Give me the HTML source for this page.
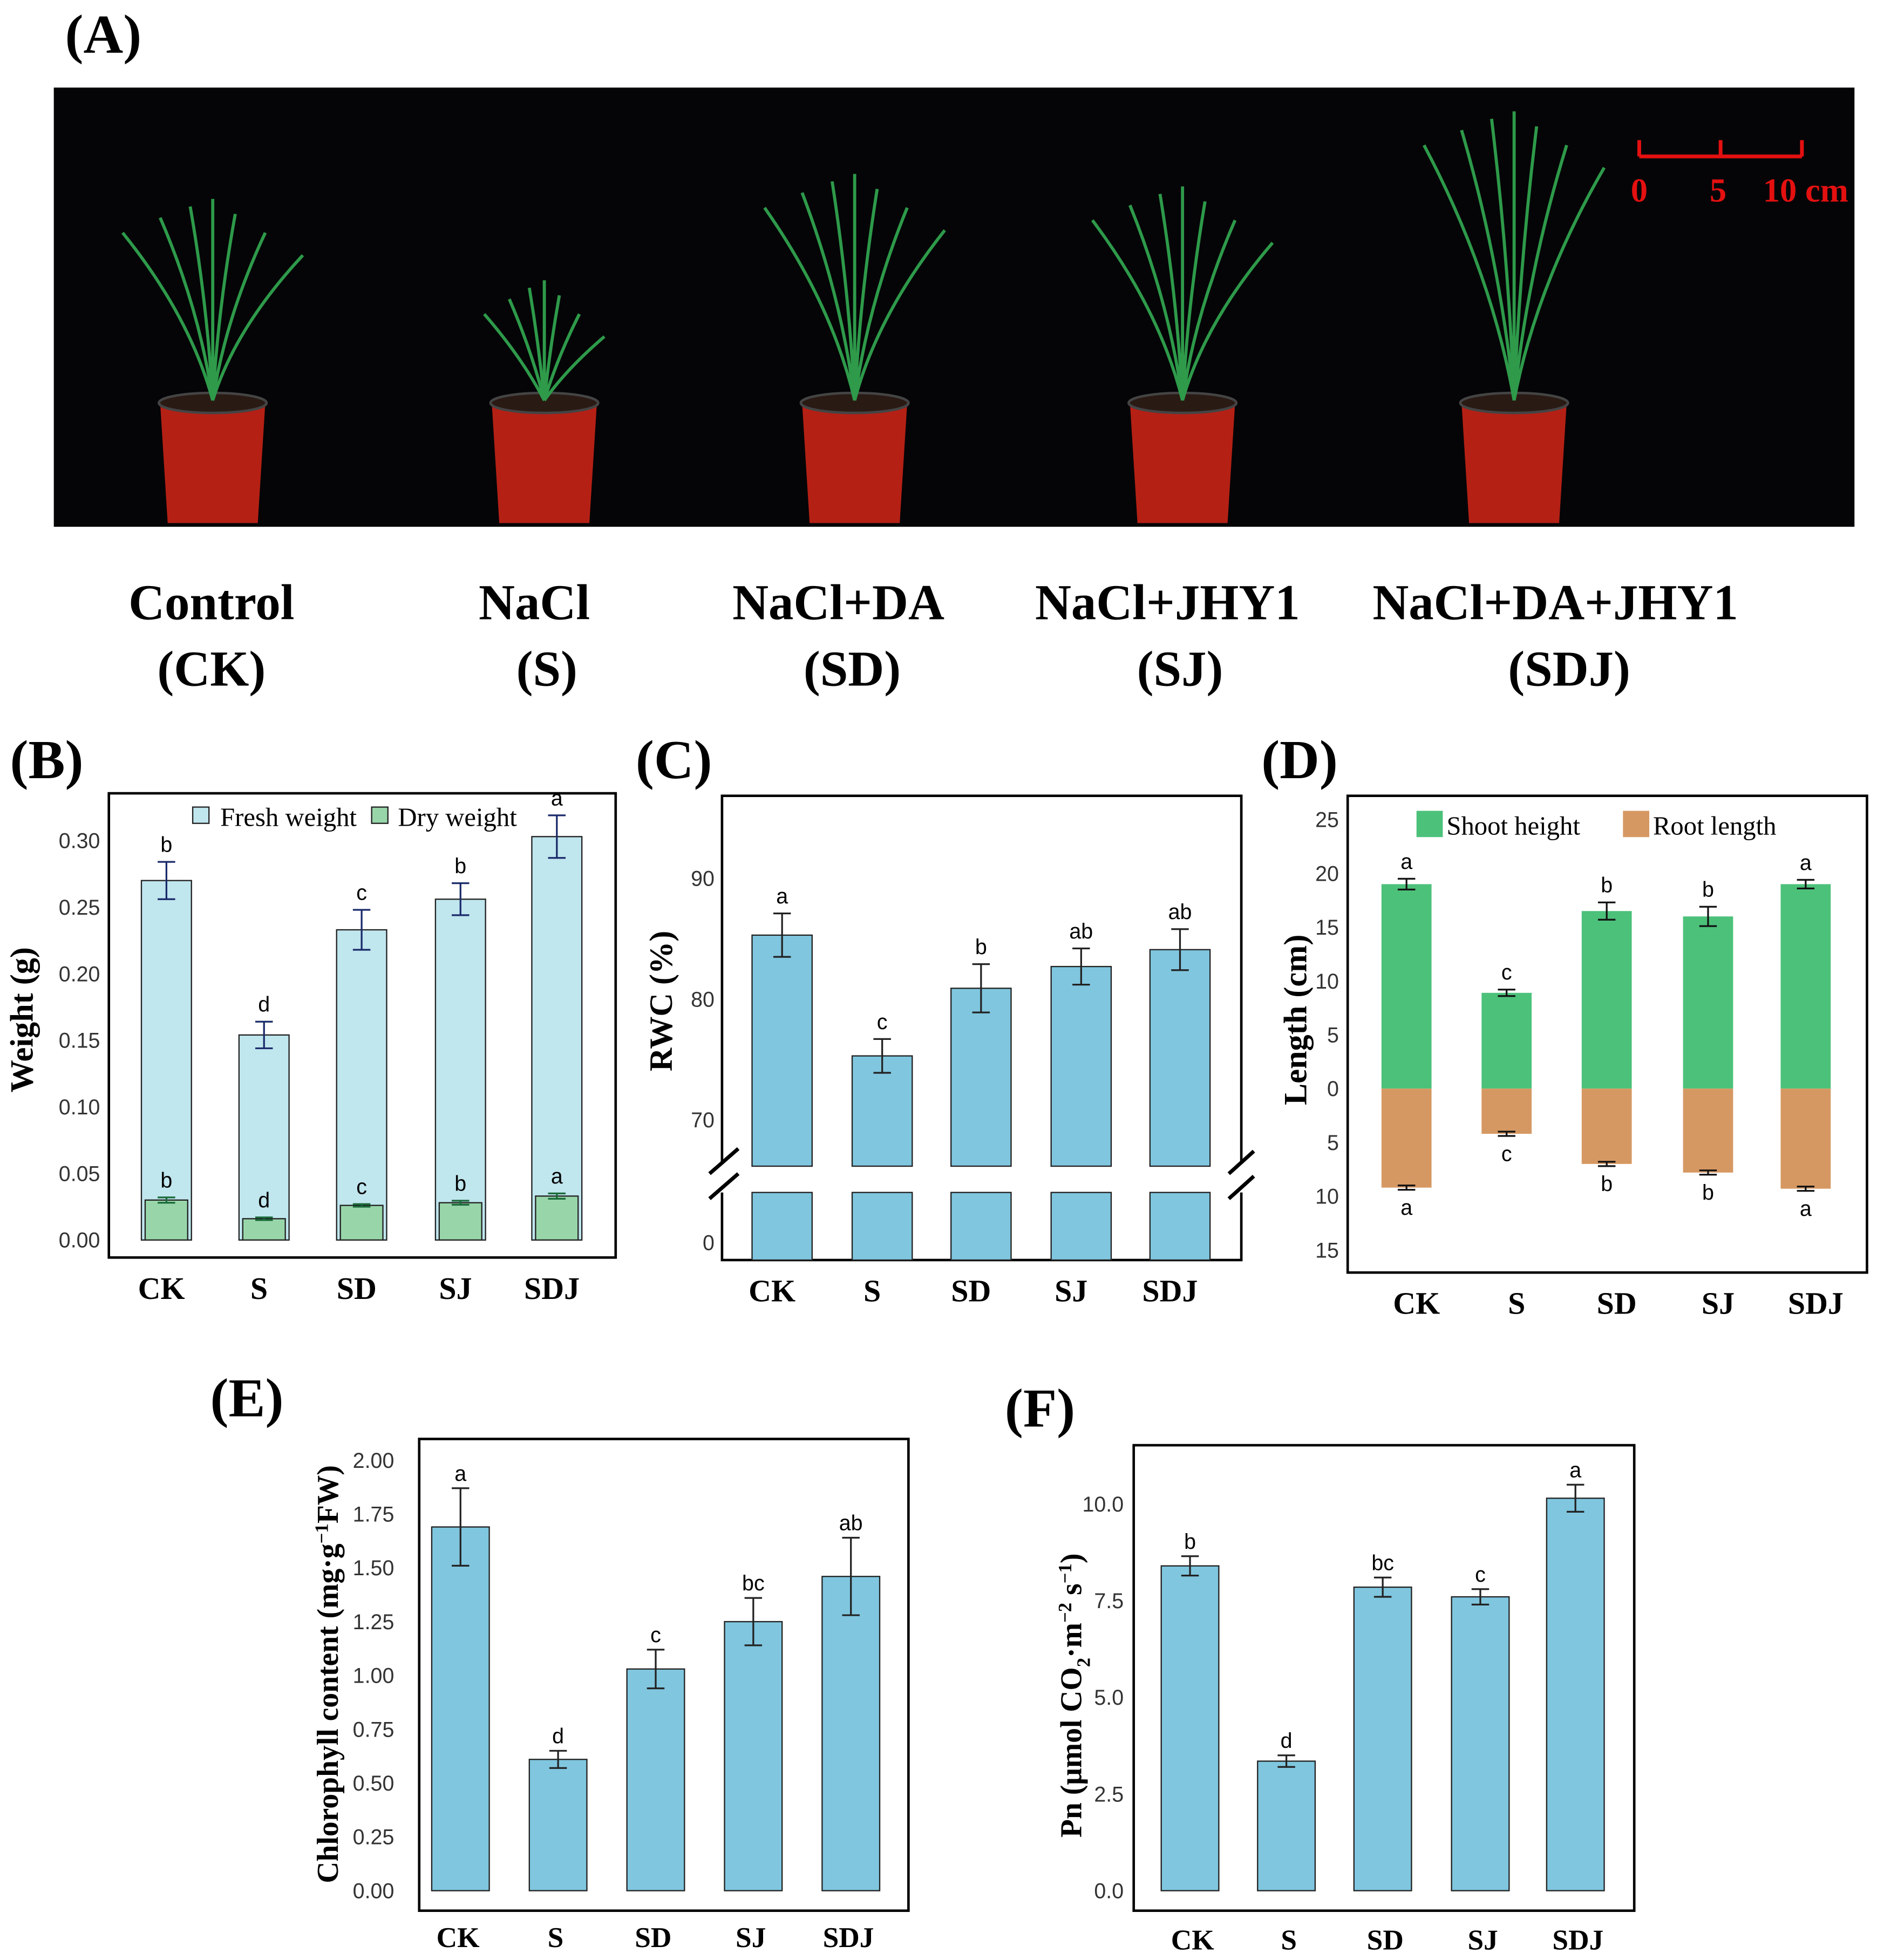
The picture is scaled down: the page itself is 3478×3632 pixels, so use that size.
<!DOCTYPE html>
<html><head><meta charset="utf-8"><style>
html,body{margin:0;padding:0;background:#fff;width:3478px;height:3632px;overflow:hidden}
svg{display:block}
.serif{font-family:"Liberation Serif",serif;font-weight:bold}
.sans{font-family:"Liberation Sans",sans-serif}
</style></head><body>
<svg id="fig" width="3478" height="3632" viewBox="0 0 1500 1566.4" preserveAspectRatio="none" xmlns="http://www.w3.org/2000/svg">
<g>
<text class="serif" x="52" y="42" font-size="44">(A)</text>
<rect x="43" y="70" width="1439" height="351" fill="#050507"/>
<g id="plants"></g>
<g stroke="#e41010" stroke-width="3">
<line x1="1310" y1="125" x2="1440" y2="125"/><line x1="1310" y1="125" x2="1310" y2="112"/><line x1="1375" y1="125" x2="1375" y2="112"/><line x1="1440" y1="125" x2="1440" y2="112"/>
</g>
<g class="serif" fill="#e41010" font-size="27" text-anchor="middle">
<text x="1310" y="161">0</text>
<text x="1373" y="161">5</text>
<text x="1443" y="161">10 cm</text>
</g>
<g class="serif" font-size="40" text-anchor="middle">
<text x="169" y="495">Control</text><text x="169" y="548">(CK)</text>
<text x="427" y="495">NaCl</text><text x="437" y="548">(S)</text>
<text x="670" y="495">NaCl+DA</text><text x="681" y="548">(SD)</text>
<text x="933" y="495">NaCl+JHY1</text><text x="943" y="548">(SJ)</text>
<text x="1243" y="495">NaCl+DA+JHY1</text><text x="1254" y="548">(SDJ)</text>
</g>
</g>
<g id="charts"></g>
</svg>
<script>
const cats = ['CK','S','SD','SJ','SDJ'];
// B
const freshW = [0.270, 0.154, 0.233, 0.256, 0.303];
const freshErr = [0.014, 0.010, 0.015, 0.012, 0.016];
const freshLet = ['b','d','c','b','a'];
const dryW = [0.030, 0.016, 0.026, 0.028, 0.033];
const dryErr = [0.002, 0.001, 0.001, 0.0015, 0.002];
const dryLet = ['b','d','c','b','a'];
const bTicks = ['0.00','0.05','0.10','0.15','0.20','0.25','0.30'];
// C
const rwc = [85.3, 75.3, 80.9, 82.7, 84.1];
const rwcErr = [1.8, 1.4, 2.0, 1.5, 1.7];
const rwcLet = ['a','c','b','ab','ab'];
const cTicks = [70, 80, 90];
// D
const shoot = [19.0, 8.9, 16.5, 16.0, 19.0];
const shootErr = [0.5, 0.3, 0.8, 0.9, 0.4];
const root = [9.2, 4.2, 7.0, 7.8, 9.3];
const rootErr = [0.2, 0.2, 0.2, 0.2, 0.2];
const shootLet = ['a','c','b','b','a'];
const rootLet = ['a','c','b','b','a'];
const dTicks = [25,20,15,10,5,0,-5,-10,-15];
// E
const chl = [1.69, 0.61, 1.03, 1.25, 1.46];
const chlErr = [0.18, 0.04, 0.09, 0.11, 0.18];
const chlLet = ['a','d','c','bc','ab'];
const eTicks = ['0.00','0.25','0.50','0.75','1.00','1.25','1.50','1.75','2.00'];
// F
const pn = [8.4, 3.35, 7.85, 7.6, 10.15];
const pnErr = [0.25, 0.15, 0.25, 0.2, 0.35];
const pnLet = ['b','d','bc','c','a'];
const fTicks = ['0.0','2.5','5.0','7.5','10.0'];

const NS='http://www.w3.org/2000/svg';
const root0=document.getElementById('charts');
function mk(tag, attrs, parent, txt){const e=document.createElementNS(NS,tag);for(const k in attrs)e.setAttribute(k,attrs[k]);if(txt!==undefined)e.textContent=txt;(parent||root0).appendChild(e);return e;}

function panel(name){const g=mk('g',{});return g;}
function label(g,x,y,t){const e=mk('text',{x:x,y:y,class:'serif','font-size':44},g,t);}
function box(g,x1,y1,x2,y2){const e=mk('rect',{x:x1,y:y1,width:x2-x1,height:y2-y1,fill:'none',stroke:'#000','stroke-width':2},g);}
function ytitle(g,x,y,t,fs){const e=mk('text',{x:0,y:0,class:'serif','font-size':fs||26,'text-anchor':'middle',transform:`translate(${x},${y}) rotate(-90)`},g);return e;}
function ytick(g,x,y,t){const e=mk('text',{x:x,y:y+6,class:'sans','font-size':17,fill:'#333','text-anchor':'end'},g,t);}
function xlab(g,x,y,t,fs){const e=mk('text',{x:x,y:y,class:'serif','font-size':fs||25,'text-anchor':'middle'},g,t);}
function bar(g,cx,w,y1,y2,fill,stroke){const e=mk('rect',{x:cx-w/2,y:Math.min(y1,y2),width:w,height:Math.abs(y2-y1),fill:fill,stroke:stroke||'none','stroke-width':1},g);return e;}
function err(g,cx,ya,yb,col,hw){const e=mk('path',{d:`M${cx-hw},${ya}H${cx+hw}M${cx},${ya}V${yb}M${cx-hw},${yb}H${cx+hw}`,stroke:col||'#000','stroke-width':1.4,fill:'none'},g);}
function let_(g,x,y,t){const e=mk('text',{x:x,y:y,class:'sans','font-size':17,'text-anchor':'middle'},g,t);}

// plants
(function(){
  const pg=document.getElementById('plants');
  const px=[170,435,683,945,1210], top=[150,215,130,140,80];
  px.forEach((x,i)=>{
    const p=mk('path',{d:`M${x-42},${322} L${x+42},${322} L${x+36},${418} L${x-36},${418} Z`,fill:'#b52015'},pg);
    
    const r=mk('ellipse',{cx:x,cy:322,rx:43,ry:8,fill:'#2a1a14',stroke:'#444','stroke-width':2},pg);
    
    const h=322-top[i], d=[];
    [-60,-35,-15,0,15,35,60].forEach((o,k)=>{const t=top[i]+Math.abs(o)*0.6+k*3;d.push(`M${x},320 Q${x+o*0.3},${(320+t)/2} ${x+o*(i==1?0.8:1.2)},${t}`);});
    const l=mk('path',{d:d.join(''),stroke:'#2e9a4a','stroke-width':2.5,fill:'none'},pg);
    
  });
})();

// Panel B
(function(){
  const g=panel('panel-b'); label(g,8,622,'(B)'); box(g,87,634,492,1005);
  const y=v=>991-v/0.05*53.2, xs=[133,211,289,368,445];
  bTicks.forEach(t=>ytick(g,80,y(+t),t));
  ytitle(g,26,815).textContent='Weight (g)';
  cats.forEach((c,i)=>{
    bar(g,xs[i],40,y(0),y(freshW[i]),'#c0e6ee','#222');
    err(g,xs[i],y(freshW[i]+freshErr[i]),y(freshW[i]-freshErr[i]),'#1a2a6a',7);
    let_(g,xs[i],y(freshW[i]+freshErr[i])-8,freshLet[i]);
    bar(g,xs[i],34,y(0),y(dryW[i]),'#98d6aa','#222');
    err(g,xs[i],y(dryW[i]+dryErr[i]),y(dryW[i]-dryErr[i]),'#1a6a3a',7);
    let_(g,xs[i],y(dryW[i]+dryErr[i])-8,dryLet[i]);
    xlab(g,xs[i]-4,1038,c);
  });
  let e=mk('rect',{x:154,y:645,width:13,height:13,fill:'#c0e6ee',stroke:'#222'},g);
  e=mk('text',{x:176,y:660,class:'serif','font-size':21,'font-weight':'normal',style:'font-weight:normal'},g,'Fresh weight');
  e=mk('rect',{x:297,y:645,width:13,height:13,fill:'#98d6aa',stroke:'#222'},g);
  e=mk('text',{x:318,y:660,class:'serif','font-size':21,style:'font-weight:normal'},g,'Dry weight');
})();

// Panel C
(function(){
  const g=panel('panel-c'); label(g,508,622,'(C)');
  const y=v=>895-(v-70)*9.65, xs=[625,705,784,864,943];
  let e=mk('path',{d:'M577,930V636H992V930M577,953V1007H992V953',fill:'none',stroke:'#000','stroke-width':2},g);
  cTicks.forEach(t=>ytick(g,571,y(t),String(t)));
  ytick(g,571,993,'0');
  ytitle(g,537,800).textContent='RWC (%)';
  cats.forEach((c,i)=>{
    bar(g,xs[i],48,932,y(rwc[i]),'#80c6df','#222');
    bar(g,xs[i],48,953,1007,'#80c6df','#222');
    err(g,xs[i],y(rwc[i]+rwcErr[i]),y(rwc[i]-rwcErr[i]),'#222',7);
    let_(g,xs[i],y(rwc[i]+rwcErr[i])-8,rwcLet[i]);
    xlab(g,xs[i]-8,1040,c);
  });
  e=mk('path',{d:'M567,938L590,918M567,958L590,938M982,938L1002,920M982,958L1002,940',stroke:'#000','stroke-width':3},g);
})();

// Panel D
(function(){
  const g=panel('panel-d'); label(g,1008,622,'(D)'); box(g,1077,636,1492,1017);
  const y=v=>870-v*8.6, xs=[1124,1204,1284,1365,1443];
  dTicks.forEach(t=>ytick(g,1070,y(t),String(Math.abs(t))));
  ytitle(g,1044,815).textContent='Length (cm)';
  cats.forEach((c,i)=>{
    bar(g,xs[i],40,y(0),y(shoot[i]),'#4cc17a');
    bar(g,xs[i],40,y(0),y(-root[i]),'#d69862');
    err(g,xs[i],y(shoot[i]+shootErr[i]),y(shoot[i]-shootErr[i]),'#111',7);
    err(g,xs[i],y(-root[i]+rootErr[i]),y(-root[i]-rootErr[i]),'#111',7);
    let_(g,xs[i],y(shoot[i]+shootErr[i])-8,shootLet[i]);
    let_(g,xs[i],y(-root[i]-rootErr[i])+20,rootLet[i]);
    xlab(g,xs[i]+8,1050,c);
  });
  let e=mk('rect',{x:1132,y:648,width:21,height:21,fill:'#4cc17a'},g);
  e=mk('text',{x:1156,y:667,class:'serif','font-size':21,style:'font-weight:normal'},g,'Shoot height');
  e=mk('rect',{x:1297,y:648,width:21,height:21,fill:'#d69862'},g);
  e=mk('text',{x:1321,y:667,class:'serif','font-size':21,style:'font-weight:normal'},g,'Root length');
})();

// Panel E
(function(){
  const g=panel('panel-e'); label(g,168,1132,'(E)'); box(g,335,1150,726,1527);
  const y=v=>1511-v*172, xs=[368,446,524,602,680];
  eTicks.forEach(t=>ytick(g,315,y(+t),t));
  const t=ytitle(g,270,1338,'',24);
  t.innerHTML='Chlorophyll content (mg·g<tspan dy="-8" font-size="15">−1</tspan><tspan dy="8">FW)</tspan>';
  cats.forEach((c,i)=>{
    bar(g,xs[i],46,y(0),y(chl[i]),'#80c6df','#222');
    err(g,xs[i],y(chl[i]+chlErr[i]),y(chl[i]-chlErr[i]),'#222',7);
    let_(g,xs[i],y(chl[i]+chlErr[i])-6,chlLet[i]);
    xlab(g,xs[i]-2,1556,c,23);
  });
})();

// Panel F
(function(){
  const g=panel('panel-f'); label(g,803,1140,'(F)'); box(g,906,1155,1306,1527);
  const y=v=>1511-v*30.9, xs=[951,1028,1105,1183,1259];
  fTicks.forEach(t=>ytick(g,898,y(+t),t));
  const t=ytitle(g,864,1355,'',24);
  t.innerHTML='Pn (μmol CO<tspan dy="7" font-size="15">2</tspan><tspan dy="-7">·m</tspan><tspan dy="-8" font-size="15">−2</tspan><tspan dy="8"> s</tspan><tspan dy="-8" font-size="15">−1</tspan><tspan dy="8">)</tspan>';
  cats.forEach((c,i)=>{
    bar(g,xs[i],46,y(0),y(pn[i]),'#80c6df','#222');
    err(g,xs[i],y(pn[i]+pnErr[i]),y(pn[i]-pnErr[i]),'#222',7);
    let_(g,xs[i],y(pn[i]+pnErr[i])-6,pnLet[i]);
    xlab(g,xs[i]+2,1558,c,23);
  });
})();
</script>
</body></html>
